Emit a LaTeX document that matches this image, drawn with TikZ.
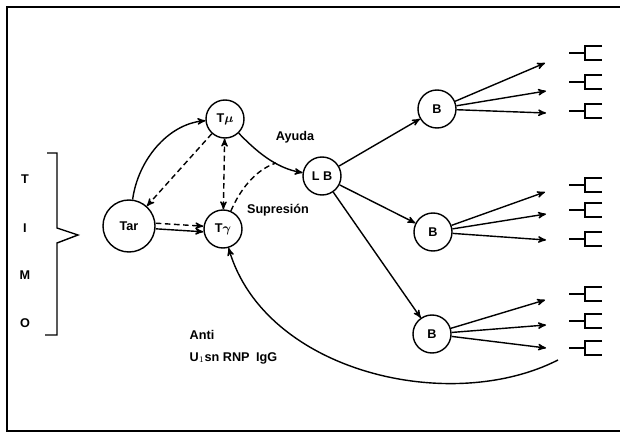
\documentclass[tikz,border=0pt]{standalone}
\usepackage{amsmath}
\usepackage{fontspec}
\setmainfont{Liberation Sans}
\usetikzlibrary{arrows,positioning}
\tikzset{
  cell/.style={circle,draw,line width=1pt,minimum size=0.95cm,inner sep=0pt,font=\small\bfseries},
  link/.style={->,>=stealth',line width=1pt},
  hint/.style={link,dash pattern=on 4pt off 2.5pt},
  tag/.style={font=\small\bfseries,inner sep=1pt},
  antibody/.pic={
    \draw[line width=1pt] (-16,0) -- (0,0);
    \draw[line width=1pt] (17,-7) -- (0,-7) -- (0,7) -- (17,7);
  }
}
\begin{document}
\begin{tikzpicture}[x=0.025cm,y=-0.025cm]
      \useasboundingbox (0,0) rectangle (620,433);
      \draw[line width=1.2pt] (620,7) -- (7,7) -- (7,431) -- (620,431);

      % thymus
      \foreach \l/\y in {T/179,I/228,M/275,O/323}
        \node[tag] (timo-\l) at (25,\y) {\l};
      \draw[line width=1pt] (47,153) -- (57,153) -- (57,228) -- (78,235) -- (57,243) -- (57,335) -- (45,335);

      \node[cell,minimum size=1.3cm] (tar) at (129,226) {Tar};
      \node[cell] (tmu) at (225,119) {T$\boldsymbol{\mu}$};
      \node[cell] (tgamma) at (223,229) {T$\boldsymbol{\gamma}$};
      \node[cell] (lb) at (322,176) {L B};
      \node[cell] (b1) at (437,109) {B};
      \node[cell] (b2) at (433,232) {B};
      \node[cell] (b3) at (432,334) {B};

      \node[tag] (ayuda) at (295,137) {Ayuda};
      \node[tag] (supresion) at (278,210) {Supresión};
      \node[tag,anchor=west] (anti) at (188,335) {Anti};
      \node[tag,anchor=west] (usnrnp) at (188,358) {U$_1$sn RNP\enspace IgG};

      \coordinate (cut) at (276,163);
      \coordinate (back) at (558,360);

      \draw[link] (tar) .. controls (138,160) and (168,124) .. (tmu);
      \draw[hint] (tmu) -- (tar);
      \draw[hint,<->] (tgamma) -- (tmu);
      \draw[hint] ([yshift=2pt]tar.east) -- ([yshift=2pt]tgamma.west);
      \draw[link] ([yshift=-2pt]tar.east) -- ([yshift=-2pt]tgamma.west);
      \draw[link] (tmu) .. controls (255,150) and (275,168) .. (lb);
      \draw[hint,-] (tgamma) .. controls (240,190) and (255,170) .. (cut);
      \draw[link] (back) .. controls (450,415) and (265,372) .. (tgamma);

      \draw[link] (lb) -- (b1);
      \draw[link] (lb) -- (b2);
      \draw[link] (lb) -- (b3);

      % plasma cell output
      \foreach \b/\ya/\yb/\yc/\ea/\eb/\ec in {b1/63/91/113/53/82/111,
                                               b2/192/214/240/185/210/239,
                                               b3/300/325/348/294/321/348} {
        \coordinate (\b-1) at (545,\ya);
        \coordinate (\b-2) at (546,\yb);
        \coordinate (\b-3) at (546,\yc);
        \draw[link] (\b) -- (\b-1);
        \draw[link] (\b) -- (\b-2);
        \draw[link] (\b) -- (\b-3);
        \pic at (585,\ea) {antibody};
        \pic at (585,\eb) {antibody};
        \pic at (585,\ec) {antibody};
      }
\end{tikzpicture}
\end{document}
